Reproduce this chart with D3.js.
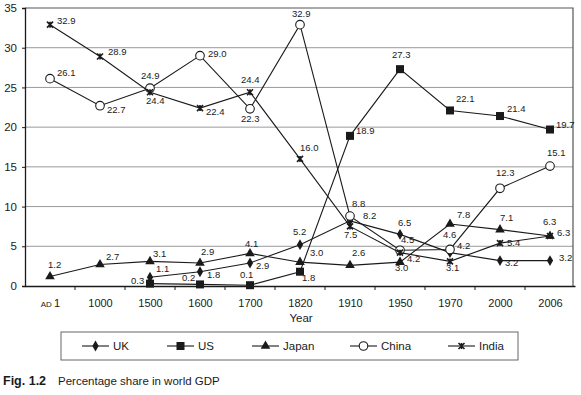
<!DOCTYPE html>
<html>
<head>
<meta charset="utf-8">
<script src="https://cdn.jsdelivr.net/npm/d3@7/dist/d3.min.js"></script>
<style>
  body { margin: 0; background: #fff; }
  text { font-family: "Liberation Sans", Arial, sans-serif; fill: #1a1a1a; }
</style>
</head>
<body>
<script>
// data
const years = ["AD 1", "1000", "1500", "1600", "1700", "1820", "1910", "1950", "1970", "2000", "2006"];
const uk    = [null, null, 1.1, 1.8, 2.9, 5.2, 8.2, 6.5, 4.2, 3.2, 3.2];
const us    = [null, null, 0.3, 0.2, 0.1, 1.8, 18.9, 27.3, 22.1, 21.4, 19.7];
const japan = [1.2, 2.7, 3.1, 2.9, 4.1, 3.0, 2.6, 3.0, 7.8, 7.1, 6.3];
const china = [26.1, 22.7, 24.9, 29.0, 22.3, 32.9, 8.8, 4.5, 4.6, 12.3, 15.1];
const india = [32.9, 28.9, 24.4, 22.4, 24.4, 16.0, 7.5, 4.2, 3.1, 5.4, 6.3];
const yTicks = [0, 5, 10, 15, 20, 25, 30, 35];

// label offsets (dx, dy) relative to each point
const ukOff    = [null, null, [6,-5], [7,6], [6,6], [-7,-10], [13,-2], [-2,-8], [7,-4], [5,5], [9,0]];
const usOff    = [null, null, [-19,0], [-18,-3], [-10,-7], [2,9], [6,-2], [-8,-11], [6,-8], [7,-4], [6,-2]];
const japanOff = [[-2,-8], [6,-5], [3,-4], [1,-8], [-5,-6], [10,-6], [2,-9], [-5,9], [7,-6], [0,-9], [-7,-11]];
const chinaOff = [[7,-3], [7,7], [-9,-9], [8,1], [-9,13], [-8,-8], [2,-9], [1,-7], [-7,-11], [-4,-12], [-3,-10]];
const indiaOff = [[7,-1], [8,-1], [-4,12], [6,7], [-9,-9], [0,-8], [-6,12], [7,9], [-4,10], [7,3], [7,0]];

const series = [
  { name: "UK", values: uk, off: ukOff, sym: "diamond" },
  { name: "US", values: us, off: usOff, sym: "square" },
  { name: "Japan", values: japan, off: japanOff, sym: "triangle" },
  { name: "China", values: china, off: chinaOff, sym: "circle" },
  { name: "India", values: india, off: indiaOff, sym: "star" }
];

const W = 581, H = 395;
const svg = d3.select("body").append("svg").attr("width", W).attr("height", H);

const x = d3.scalePoint().domain(years).range([25, 575]).padding(0.5);
const y = d3.scaleLinear().domain([0, 35]).range([286, 8]);
const ink = "#1a1a1a";

// grid
svg.append("g").selectAll("line").data(yTicks.filter(d => d > 0 && d < 35)).enter()
  .append("line")
  .attr("x1", 25).attr("x2", 573)
  .attr("y1", d => y(d)).attr("y2", d => y(d))
  .attr("stroke", "#9a9a9a").attr("stroke-width", 1);

// frame top/right
svg.append("path")
  .attr("d", `M25,${y(35)}H573V${y(0)}`)
  .attr("fill", "none").attr("stroke", "#555").attr("stroke-width", 1.2);

// y axis
const yAxis = svg.append("g").attr("transform", "translate(25,0)")
  .call(d3.axisLeft(y).tickValues(yTicks).tickSize(3).tickPadding(5));
yAxis.select(".domain").attr("stroke", ink).attr("stroke-width", 1.3);
yAxis.selectAll("line").attr("stroke", ink);
yAxis.selectAll("text").attr("font-size", 11.5).attr("fill", ink)
  .style("font-family", "'Liberation Sans', Arial, sans-serif");

// x axis
const xAxis = svg.append("g").attr("transform", `translate(0,${y(0)})`)
  .call(d3.axisBottom(x).tickSize(0).tickPadding(13));
xAxis.select(".domain").attr("stroke", ink).attr("stroke-width", 1.3);
xAxis.selectAll("text").attr("font-size", 11).attr("fill", ink)
  .style("font-family", "'Liberation Sans', Arial, sans-serif")
  .each(function (d) {
    if (d === "AD 1") {
      const t = d3.select(this).text("");
      t.append("tspan").attr("font-size", 8).text("AD ");
      t.append("tspan").text("1");
    }
  });
// small separators between categories
svg.append("g").selectAll("line").data(years.slice(1)).enter()
  .append("line")
  .attr("x1", d => x(d) - x.step() / 2).attr("x2", d => x(d) - x.step() / 2)
  .attr("y1", y(0)).attr("y2", y(0) + 4)
  .attr("stroke", ink);

svg.append("text").attr("x", 301).attr("y", 322).attr("text-anchor", "middle")
  .attr("font-size", 11.5).text("Year");

// markers
function drawMarker(g, sym, cx, cy) {
  if (sym === "diamond") {
    g.append("path").attr("d", d3.symbol(d3.symbolDiamond, 34)())
      .attr("transform", `translate(${cx},${cy})`).attr("fill", ink);
  } else if (sym === "square") {
    g.append("rect").attr("x", cx - 4).attr("y", cy - 4).attr("width", 8).attr("height", 8).attr("fill", ink);
  } else if (sym === "triangle") {
    g.append("path").attr("d", d3.symbol(d3.symbolTriangle, 40)())
      .attr("transform", `translate(${cx},${cy})`).attr("fill", ink);
  } else if (sym === "circle") {
    g.append("circle").attr("cx", cx).attr("cy", cy).attr("r", 4.3)
      .attr("fill", "#fff").attr("stroke", ink).attr("stroke-width", 1.1);
  } else {
    const s = 3;
    g.append("path")
      .attr("d", `M${cx - s},${cy - s}L${cx + s},${cy + s}M${cx - s},${cy + s}L${cx + s},${cy - s}M${cx},${cy - s}V${cy + s}`)
      .attr("stroke", ink).attr("stroke-width", 1.6).attr("fill", "none");
  }
}

const line = d3.line()
  .defined(d => d.v !== null)
  .x(d => x(d.year)).y(d => y(d.v));

series.forEach(s => {
  const pts = years.map((yr, i) => ({ year: yr, v: s.values[i], off: s.off[i] }));
  const g = svg.append("g");
  g.append("path").datum(pts).attr("d", line)
    .attr("fill", "none").attr("stroke", ink).attr("stroke-width", 1.1);
  pts.filter(p => p.v !== null).forEach(p => drawMarker(g, s.sym, x(p.year), y(p.v)));
  g.selectAll("text.lbl").data(pts.filter(p => p.v !== null)).enter()
    .append("text").attr("class", "lbl")
    .attr("x", p => x(p.year) + p.off[0])
    .attr("y", p => y(p.v) + p.off[1])
    .attr("font-size", 9.5)
    .text(p => p.v.toFixed(1));
});

// legend
const lg = svg.append("g");
lg.append("rect").attr("x", 61).attr("y", 332).attr("width", 457).attr("height", 28)
  .attr("fill", "none").attr("stroke", "#666").attr("stroke-width", 1);
const legX = [82, 167, 252, 350, 448];
series.forEach((s, i) => {
  const lx = legX[i], ly = 346;
  lg.append("line").attr("x1", lx).attr("x2", lx + 27).attr("y1", ly).attr("y2", ly)
    .attr("stroke", ink).attr("stroke-width", 1.1);
  drawMarker(lg, s.sym, lx + 13.5, ly);
  lg.append("text").attr("x", lx + 31).attr("y", ly + 4).attr("font-size", 11.5).text(s.name);
});

// caption
const cap = svg.append("text").attr("x", 3).attr("y", 385).attr("font-size", 11.5);
cap.append("tspan").attr("font-weight", "bold").attr("font-size", 12.5).text("Fig. 1.2");
cap.append("tspan").attr("x", 58).text("Percentage share in world GDP");
</script>
</body>
</html>
